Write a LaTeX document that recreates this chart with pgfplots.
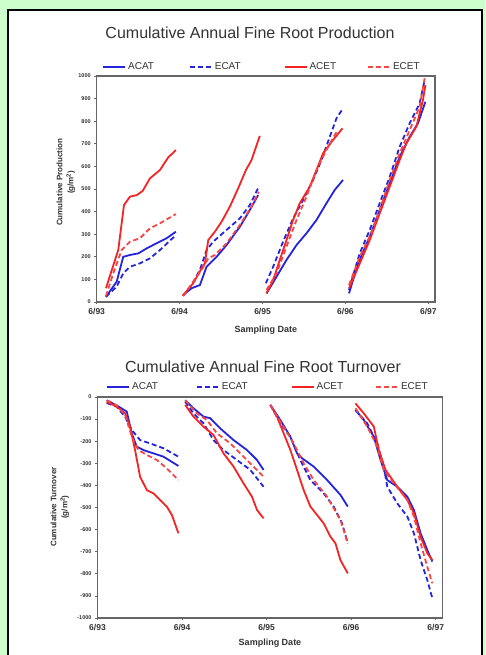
\documentclass[border=0pt]{standalone}
\usepackage{fontspec}
\setmainfont{Liberation Sans}
\usepackage{pgfplots}
\pgfplotsset{compat=1.18}
\definecolor{bgreen}{HTML}{CCFFCC}
\definecolor{sblue}{HTML}{2424DC}
\definecolor{sred}{HTML}{F42424}
\definecolor{txt}{HTML}{333333}
\definecolor{frame}{HTML}{666666}

\pgfplotsset{
  rootax/.style={
    scale only axis, xmin=0, xmax=4.08,
    xtick={0,1,2,3,4}, xticklabels={6/93,6/94,6/95,6/96,6/97},
    xtick pos=bottom, ytick pos=left, tick align=outside,
    major tick length=2.5pt, tick style={frame, line width=0.6pt},
    axis line style={frame, line width=1.4pt},
    unbounded coords=jump,
    /pgf/number format/assume math mode=true,
    /pgf/number format/1000 sep={},
    x tick label style={font=\bfseries\fontsize{8.5}{10}\selectfont, text=txt},
    y tick label style={font=\bfseries\fontsize{5.5}{7}\selectfont, text=txt},
    xlabel={Sampling Date},
    xlabel style={font=\bfseries\fontsize{9}{11}\selectfont, text=txt},
    ylabel style={align=center, font=\bfseries\fontsize{8}{11}\selectfont, text=txt},
    legend columns=4, legend cell align=left,
    legend image code/.code={\draw[#1] (0pt,0pt) -- (22pt,0pt);},
    legend style={draw=none, fill=none, inner sep=0pt, anchor=west,
      font=\fontsize{10}{12}\selectfont, text=txt},
  },
  sa/.style={sblue, line width=1.8pt},
  se/.style={sblue, line width=1.8pt, dash pattern=on 5pt off 3pt},
  ra/.style={sred, line width=1.8pt},
  re/.style={sred!85!white, line width=1.8pt, dash pattern=on 5pt off 3pt},
}

\begin{document}
\begin{tikzpicture}
\useasboundingbox (0pt,0pt) rectangle (485pt,655pt);
\fill[bgreen] (0pt,0pt) rectangle (485pt,655pt);
\fill[white] (8pt,-2pt) rectangle (482pt,645pt);
\draw[black, line width=1.6pt] (8pt,-3pt) -- (8pt,645pt) -- (482pt,645pt) -- (482pt,-3pt);

\node[font=\fontsize{16}{19}\selectfont, text=txt] at (250pt,622pt) {Cumulative Annual Fine Root Production};
\node[font=\fontsize{16}{19}\selectfont, text=txt] at (263pt,288pt) {Cumulative Annual Fine Root Turnover};

% production
\begin{axis}[rootax, at={(96.7pt,353pt)}, anchor=south west,
    width=338.3pt, height=226pt,
    ymin=0, ymax=1000, ytick={0,100,...,1000},
    ylabel={Cumulative Production\\(g/m\textsuperscript{2})},
    ylabel style={at={(axis description cs:-0.091,0.53)}, anchor=center},
    xlabel style={at={(axis description cs:0.5,-0.124)}, anchor=center},
    legend style={at={(axis description cs:0.016,1.04)},
      /tikz/column 2/.style={column sep=33pt},
      /tikz/column 4/.style={column sep=41pt},
      /tikz/column 6/.style={column sep=29pt}}]
\addplot[sa] coordinates {
(0.112,23) (0.241,90) (0.320,200) (0.401,208) (0.501,215) (0.602,237) (0.723,260) (0.843,282) (0.955,311)
(1.5,nan)
(1.043,31) (1.145,61) (1.245,75) (1.325,156) (1.446,200) (1.566,252) (1.727,333) (1.847,407) (1.947,473)
(2.5,nan)
(2.048,38) (2.169,112) (2.289,186) (2.410,252) (2.530,304) (2.651,363) (2.771,437) (2.871,496) (2.971,540)
(3.5,nan)
(3.043,38) (3.152,171) (3.293,289) (3.413,407) (3.534,525) (3.654,643) (3.775,731) (3.875,791) (3.964,886)};
\addlegendentry{ACAT}
\addplot[se] coordinates {
(0.112,23) (0.241,68) (0.320,127) (0.401,156) (0.522,171) (0.642,193) (0.763,230) (0.955,296)
(1.5,nan)
(1.043,27) (1.145,75) (1.245,142) (1.325,230) (1.405,267) (1.566,319) (1.727,370) (1.847,429) (1.959,513)
(2.5,nan)
(2.040,83) (2.128,156) (2.248,267) (2.369,370) (2.489,451) (2.610,540) (2.711,628) (2.811,731) (2.892,813) (2.964,853)
(3.5,nan)
(3.043,53) (3.100,127) (3.172,215) (3.293,319) (3.413,437) (3.534,554) (3.654,687) (3.775,791) (3.895,879) (3.955,982)};
\addlegendentry{ECAT}
\addplot[ra] coordinates {
(0.112,61) (0.260,230) (0.329,429) (0.401,466) (0.482,473) (0.554,491) (0.642,547) (0.763,584) (0.863,640) (0.955,672)
(1.5,nan)
(1.036,27) (1.164,83) (1.265,149) (1.305,171) (1.345,274) (1.425,311) (1.506,355) (1.606,422) (1.706,503) (1.800,584) (1.867,628) (1.967,735)
(2.5,nan)
(2.048,38) (2.128,97) (2.208,186) (2.289,274) (2.369,363) (2.449,437) (2.570,510) (2.651,584) (2.730,658) (2.851,717) (2.964,768)
(3.5,nan)
(3.043,60) (3.172,170) (3.293,274) (3.413,392) (3.534,510) (3.654,628) (3.735,702) (3.855,776) (3.935,894) (3.964,960)};
\addlegendentry{ACET}
\addplot[re] coordinates {
(0.112,26) (0.200,127) (0.301,230) (0.401,267) (0.522,282) (0.642,326) (0.763,348) (0.955,389)
(1.5,nan)
(1.043,27) (1.164,90) (1.265,142) (1.345,193) (1.425,208) (1.566,260) (1.727,341) (1.867,422) (1.955,488)
(2.5,nan)
(2.048,53) (2.169,127) (2.289,245) (2.410,363) (2.530,466) (2.651,584) (2.771,673) (2.871,739) (2.911,761)
(3.5,nan)
(3.043,75) (3.172,200) (3.293,289) (3.413,407) (3.534,540) (3.654,658) (3.775,761) (3.895,864) (3.955,990)};
\addlegendentry{ECET}
\end{axis}

% turnover
\begin{axis}[rootax, at={(97.5pt,37pt)}, anchor=south west,
    width=345pt, height=221pt,
    ymin=-1000, ymax=0, ytick={-1000,-900,...,0},
    ylabel={Cumulative Turnover\\(g/m\textsuperscript{2})},
    ylabel style={at={(axis description cs:-0.109,0.502)}, anchor=center},
    xlabel style={at={(axis description cs:0.5,-0.113)}, anchor=center},
    legend style={at={(axis description cs:0.025,1.045)},
      /tikz/column 2/.style={column sep=36pt},
      /tikz/column 4/.style={column sep=41pt},
      /tikz/column 6/.style={column sep=30pt}}]
\addplot[sa] coordinates {
(0.109,-15) (0.227,-38) (0.346,-66) (0.405,-164) (0.464,-225) (0.543,-240) (0.661,-255) (0.780,-270) (0.957,-312)
(1.5,nan)
(1.037,-15) (1.135,-51) (1.254,-89) (1.333,-96) (1.451,-142) (1.609,-195) (1.768,-240) (1.886,-285) (1.964,-330)
(2.5,nan)
(2.044,-36) (2.162,-104) (2.281,-180) (2.360,-255) (2.418,-277) (2.557,-315) (2.716,-376) (2.873,-443) (2.960,-496)
(3.5,nan)
(3.051,-59) (3.149,-104) (3.268,-180) (3.347,-285) (3.427,-376) (3.545,-406) (3.664,-451) (3.742,-511) (3.821,-617) (3.900,-692) (3.960,-745)};
\addlegendentry{ACAT}
\addplot[se] coordinates {
(0.109,-27) (0.227,-44) (0.326,-89) (0.405,-149) (0.504,-195) (0.622,-210) (0.780,-232) (0.957,-270)
(1.5,nan)
(1.037,-21) (1.135,-74) (1.254,-119) (1.372,-195) (1.490,-240) (1.649,-285) (1.807,-330) (1.964,-406)
(2.5,nan)
(2.044,-36) (2.162,-119) (2.281,-180) (2.399,-285) (2.518,-376) (2.675,-436) (2.794,-496) (2.893,-572) (2.960,-662)
(3.5,nan)
(3.051,-59) (3.190,-119) (3.308,-210) (3.386,-315) (3.427,-406) (3.545,-481) (3.664,-541) (3.742,-617) (3.821,-738) (3.900,-828) (3.960,-911)};
\addlegendentry{ECAT}
\addplot[ra] coordinates {
(0.109,-21) (0.227,-44) (0.326,-74) (0.385,-134) (0.444,-240) (0.504,-361) (0.583,-421) (0.661,-436) (0.740,-466) (0.820,-496) (0.880,-534) (0.957,-617)
(1.5,nan)
(1.037,-36) (1.135,-89) (1.254,-134) (1.372,-172) (1.490,-255) (1.609,-315) (1.727,-391) (1.827,-451) (1.886,-511) (1.964,-549)
(2.5,nan)
(2.044,-36) (2.123,-89) (2.201,-164) (2.281,-240) (2.360,-330) (2.438,-421) (2.518,-496) (2.597,-534) (2.675,-572) (2.755,-632) (2.814,-662) (2.873,-738) (2.960,-798)
(3.5,nan)
(3.051,-29) (3.149,-74) (3.268,-134) (3.327,-240) (3.406,-330) (3.545,-406) (3.664,-466) (3.742,-526) (3.821,-632) (3.900,-707) (3.960,-738)};
\addlegendentry{ACET}
\addplot[re] coordinates {
(0.109,-15) (0.227,-38) (0.326,-81) (0.405,-180) (0.483,-240) (0.583,-262) (0.701,-285) (0.820,-323) (0.957,-376)
(1.5,nan)
(1.037,-15) (1.175,-74) (1.294,-104) (1.412,-164) (1.570,-210) (1.727,-270) (1.846,-315) (1.964,-361)
(2.5,nan)
(2.044,-36) (2.162,-111) (2.320,-210) (2.438,-300) (2.557,-376) (2.716,-451) (2.873,-557) (2.960,-662)
(3.5,nan)
(3.051,-51) (3.190,-134) (3.308,-225) (3.386,-330) (3.505,-391) (3.664,-466) (3.742,-541) (3.821,-662) (3.900,-768) (3.960,-843)};
\addlegendentry{ECET}
\end{axis}
\end{tikzpicture}
\end{document}
